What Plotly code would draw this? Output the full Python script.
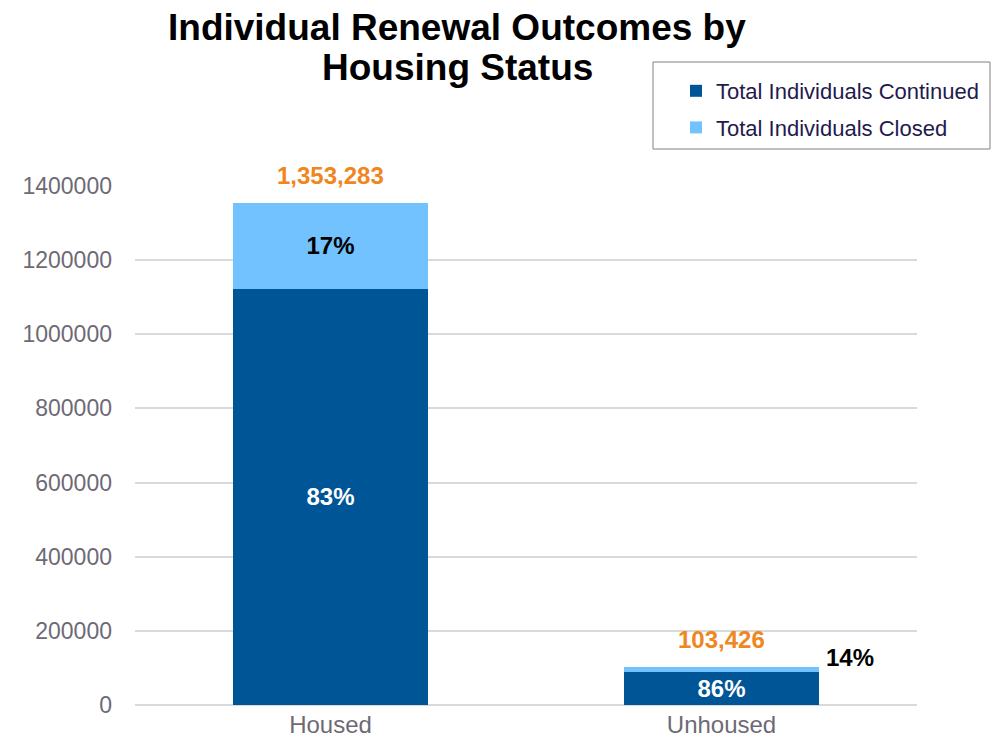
import plotly.graph_objects as go

categories = ["Housed", "Unhoused"]
continued = [1123225, 88946]
closed = [230058, 14480]
totals = [1353283, 103426]
pct_continued = ["83%", "86%"]
pct_closed = ["17%", "14%"]
tick_vals = [0, 200000, 400000, 600000, 800000, 1000000, 1200000, 1400000]
title_lines = ["Individual Renewal Outcomes by", "Housing Status"]

FONT = "Liberation Sans, Arial, sans-serif"

fig = go.Figure()
fig.add_trace(go.Bar(
    x=categories, y=continued, name="Total Individuals Continued",
    legendgroup="a",
    marker=dict(color="#005596", line=dict(width=0)), width=0.5,
    text=pct_continued, textposition="inside", insidetextanchor="middle",
    textfont=dict(family=FONT, size=24, color="white", weight="bold"),
    textangle=0,
))
fig.add_trace(go.Bar(
    x=categories, y=closed, name="Total Individuals Closed",
    legendgroup="b",
    marker=dict(color="#72C2FF", line=dict(width=0)), width=0.5,
    text=[pct_closed[0], ""], textposition="inside", insidetextanchor="middle",
    textfont=dict(family=FONT, size=24, color="black", weight="bold"),
    textangle=0,
))

annotations = []
for c, t in zip(categories, totals):
    annotations.append(dict(
        x=c, y=t, xref="x", yref="y", text=f"<b>{t:,}</b>", showarrow=False,
        yanchor="bottom", yshift=12,
        font=dict(family=FONT, size=24, color="#F0861E"),
    ))
annotations.append(dict(
    x=categories[1], y=totals[1], xref="x", yref="y", text=f"<b>{pct_closed[1]}</b>",
    showarrow=False, xshift=128, yshift=9,
    font=dict(family=FONT, size=24, color="black"),
))
for line, ypix in zip(title_lines, [27, 68]):
    annotations.append(dict(
        x=(457 - 135) / 782, y=(705 - ypix) / 519, xref="paper", yref="paper",
        text=f"<b>{line}</b>", showarrow=False, xanchor="center", yanchor="middle",
        font=dict(family=FONT, size=37, color="black"),
    ))

fig.update_layout(
    width=1005, height=744,
    margin=dict(l=135, r=88, t=186, b=39, autoexpand=False),
    barmode="stack",
    bargap=0.5,
    plot_bgcolor="white", paper_bgcolor="white",
    legend=dict(
        x=(676 - 135) / 782, y=(705 - 70) / 519, xanchor="left", yanchor="top",
        borderwidth=0, bgcolor="rgba(0,0,0,0)",
        font=dict(family=FONT, size=22, color="#1F1B4D"),
        traceorder="grouped", tracegroupgap=5,
    ),
    shapes=[dict(
        type="rect", xref="paper", yref="paper",
        x0=(653 - 135) / 782, x1=(990 - 135) / 782,
        y0=(705 - 149) / 519, y1=(705 - 62) / 519,
        line=dict(color="#808080", width=1), fillcolor="rgba(0,0,0,0)",
        layer="below",
    )],
    annotations=annotations,
    showlegend=True,
)
fig.update_yaxes(
    range=[0, 1400000], tickvals=tick_vals, ticktext=[str(v) for v in tick_vals],
    showgrid=True, gridcolor="#D9D9D9", gridwidth=2, zeroline=True,
    zerolinecolor="#D9D9D9", zerolinewidth=2,
    tickfont=dict(family=FONT, size=23, color="#6E6A75"), ticks="",
    ticklabelstandoff=22, showline=False, automargin=False,
)
fig.update_xaxes(
    tickfont=dict(family=FONT, size=24, color="#6E6A75"), showline=False, ticks="",
    ticklabelstandoff=3, automargin=False,
)

fig.write_html("out.html")
